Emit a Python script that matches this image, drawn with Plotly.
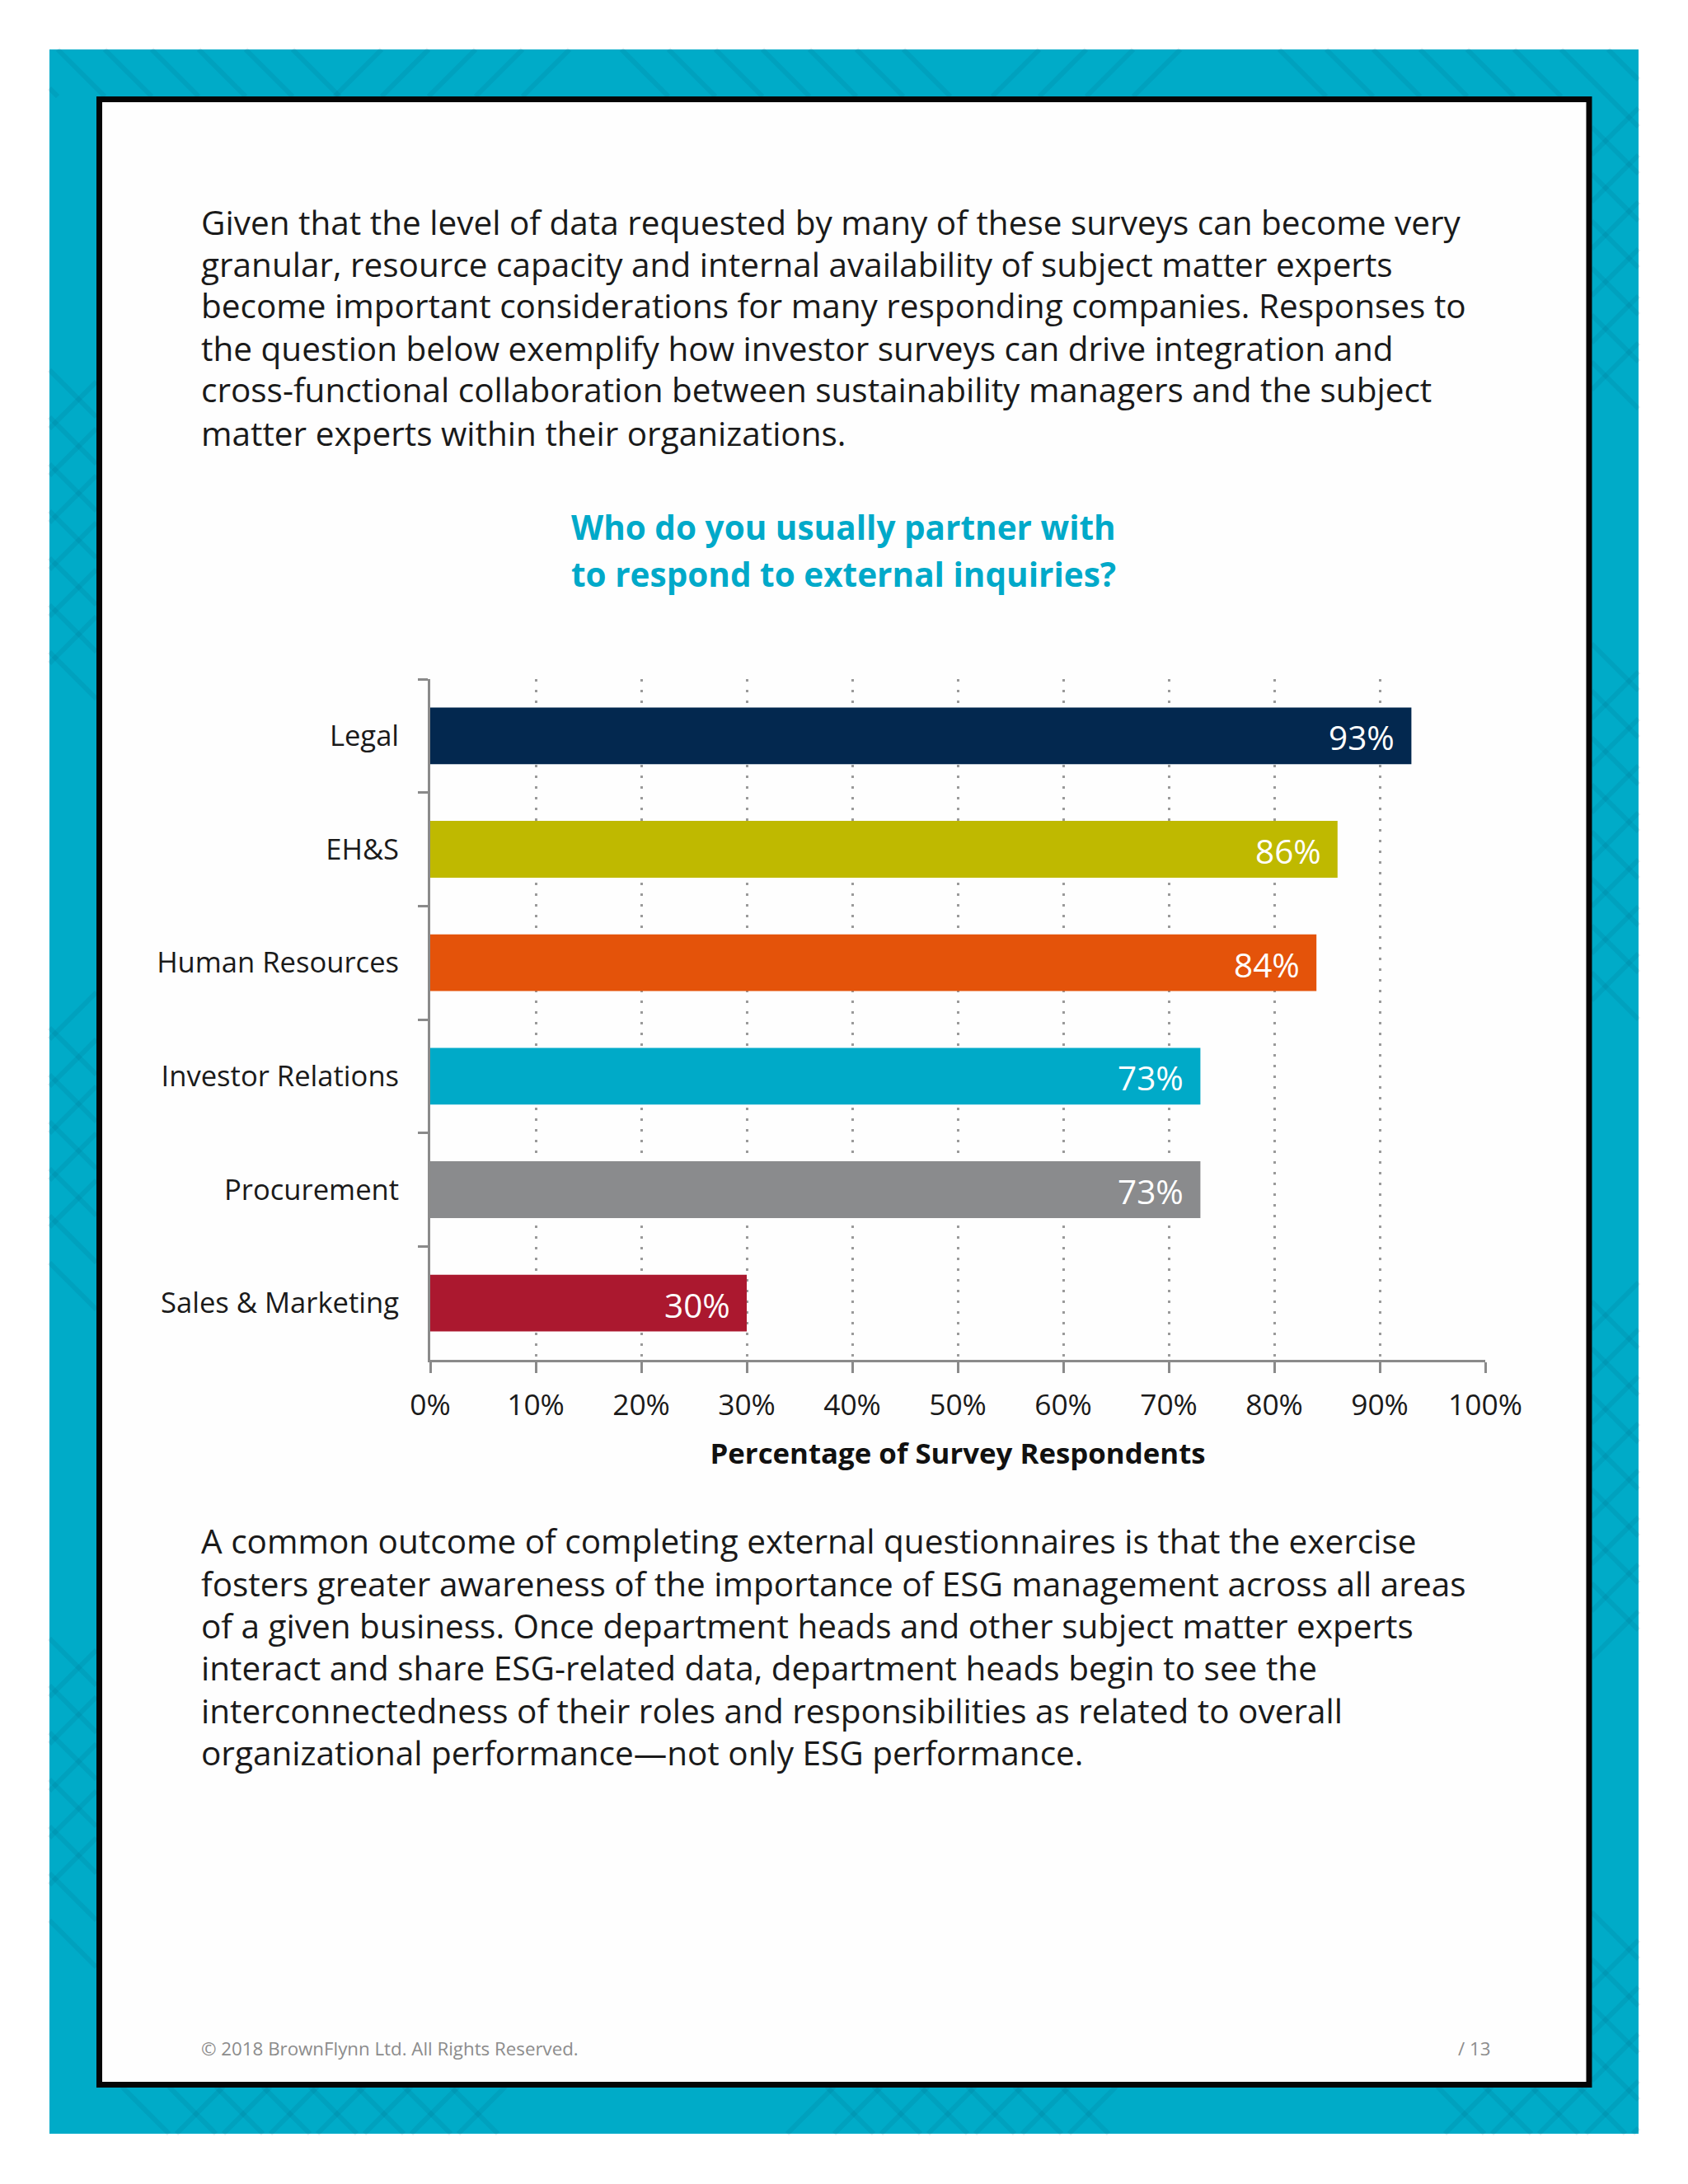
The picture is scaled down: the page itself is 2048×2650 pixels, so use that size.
import plotly.graph_objects as go

# ---------------- data ----------------
categories = ["Legal", "EH&S", "Human Resources", "Investor Relations", "Procurement", "Sales & Marketing"]
values = [93, 86, 84, 73, 73, 30]
bar_colors = ["#03284F", "#BFB900", "#E4530A", "#00AAC8", "#8A8B8D", "#AB182F"]
x_ticks = [0, 10, 20, 30, 40, 50, 60, 70, 80, 90, 100]
x_tick_labels = ["0%", "10%", "20%", "30%", "40%", "50%", "60%", "70%", "80%", "90%", "100%"]

chart_title = ["Who do you usually partner with", "to respond to external inquiries?"]
x_title = "Percentage of Survey Respondents"
para1 = [
    "Given that the level of data requested by many of these surveys can become very",
    "granular, resource capacity and internal availability of subject matter experts",
    "become important considerations for many responding companies. Responses to",
    "the question below exemplify how investor surveys can drive integration and",
    "cross-functional collaboration between sustainability managers and the subject",
    "matter experts within their organizations.",
]
para2 = [
    "A common outcome of completing external questionnaires is that the exercise",
    "fosters greater awareness of the importance of ESG management across all areas",
    "of a given business. Once department heads and other subject matter experts",
    "interact and share ESG-related data, department heads begin to see the",
    "interconnectedness of their roles and responsibilities as related to overall",
    "organizational performance\u2014not only ESG performance.",
]
footer_left = "\u00a9 2018 BrownFlynn Ltd. All Rights Reserved."
footer_right = "/ 13"

# ---------------- layout geometry (page pixels) ----------------
OFF = 8                      # default page body margin
W, H = 2032, 2634            # figure size
L, R, T, B = 522, 1802, 824, 1650   # plot area in page pixels
FONT = "Open Sans"
TEAL = "#00ABC8"


def px(x):
    return (x - L) / (R - L)


def py(y):
    return (B - y) / (B - T)


fig = go.Figure()
fig.add_trace(go.Bar(
    x=values, y=categories, orientation="h",
    marker=dict(color=bar_colors, line=dict(width=0)),
    width=0.5, hoverinfo="x+y", showlegend=False,
))

annotations = []
for c, v in zip(categories, values):
    annotations.append(dict(
        x=v, y=c, xref="x", yref="y", text=f"{v}%", showarrow=False,
        xanchor="right", yanchor="middle", xshift=-18, yshift=-2,
        font=dict(family=FONT, size=40.5, color="white"),
    ))

para1_y = [269, 320, 371, 422, 473, 525]
para2_y = [1869, 1921, 1972, 2023, 2075, 2126]
for lines, ys in ((para1, para1_y), (para2, para2_y)):
    for t, yy in zip(lines, ys):
        annotations.append(dict(
            x=px(242), y=py(yy), xref="paper", yref="paper", text=t, showarrow=False,
            xanchor="left", yanchor="middle",
            font=dict(family=FONT, size=40.5, color="#1A1A1A"),
        ))

for t, yy in zip(chart_title, [640, 696]):
    annotations.append(dict(
        x=px(1023), y=py(yy), xref="paper", yref="paper", text=t, showarrow=False,
        xanchor="center", yanchor="middle",
        font=dict(family=FONT, size=40.5, color="#00A9C9", weight="bold"),
    ))

annotations.append(dict(
    x=px(242), y=py(2485), xref="paper", yref="paper", text=footer_left, showarrow=False,
    xanchor="left", yanchor="middle", font=dict(family=FONT, size=22.3, color="#8C8C8C"),
))
annotations.append(dict(
    x=px(1810), y=py(2485), xref="paper", yref="paper", text=footer_right, showarrow=False,
    xanchor="right", yanchor="middle", font=dict(family=FONT, size=22.3, color="#8C8C8C"),
))

# ---------------- decorative frame ----------------
shapes = []
shapes.append(dict(type="rect", xref="paper", yref="paper", layer="below",
                   x0=px(60), x1=px(1988), y0=py(60), y1=py(2589),
                   fillcolor=TEAL, line=dict(width=0)))

bands = {
    "top": (60, 60, 1988, 117),
    "bottom": (60, 2532, 1988, 2589),
    "left": (60, 117, 117, 2532),
    "right": (1931, 117, 1988, 2532),
}
patches = {
    ("top", 1): [(60, 420), (780, 1150), (1540, 1988)],
    ("top", -1): [(430, 700), (1190, 1460)],
    ("bottom", 1): [(150, 612), (975, 1370), (1735, 1988)],
    ("bottom", -1): [(200, 612), (975, 1370), (1735, 1988)],
    ("left", 1): [(117, 140), (463, 840), (1223, 1600), (1983, 2360)],
    ("left", -1): [(463, 800), (1223, 1500), (1983, 2300)],
    ("right", 1): [(117, 473), (797, 1233), (1557, 1993), (2317, 2532)],
    ("right", -1): [(140, 473), (797, 1233), (1557, 1993), (2350, 2532)],
}
S = 57
for name, (x0, y0, x1, y1) in bands.items():
    horizontal = name in ("top", "bottom")
    for k in (1, -1):
        segs = []
        cmin = -4000
        for i in range(200):
            c = cmin + i * S + (0 if k == 1 else 20)
            if k == 1:
                xa, xb = max(x0, y0 - c), min(x1, y1 - c)
            else:
                xa, xb = max(x0, c - y1), min(x1, c - y0)
            if xb - xa < 2:
                continue
            ya, yb = k * xa + c, k * xb + c
            mx, my = (xa + xb) / 2, (ya + yb) / 2
            pos = mx if horizontal else my
            if not any(a <= pos <= b for a, b in patches[(name, k)]):
                continue
            segs.append(f"M{px(xa):.5f},{py(ya):.5f} L{px(xb):.5f},{py(yb):.5f}")
        if segs:
            shapes.append(dict(type="path", xref="paper", yref="paper", layer="below",
                               path=" ".join(segs),
                               line=dict(color="rgba(0,90,120,0.12)", width=6)))

shapes.append(dict(type="rect", xref="paper", yref="paper", layer="below",
                   x0=px(120.5), x1=px(1928), y0=py(120.5), y1=py(2529.5),
                   fillcolor="#FEFEFE", line=dict(color="#050505", width=7)))

AX = "#8A8A8A"
fig.update_layout(
    width=W, height=H, autosize=False,
    margin=dict(l=L - OFF, r=W - (R - OFF), t=T - OFF, b=H - (B - OFF), pad=0),
    paper_bgcolor="white", plot_bgcolor="rgba(0,0,0,0)",
    font=dict(family=FONT, color="#1A1A1A"),
    showlegend=False, bargap=0.5,
    annotations=annotations, shapes=shapes,
    xaxis=dict(
        range=[0, 100], tickvals=x_ticks, ticktext=x_tick_labels,
        ticks="outside", ticklen=13, tickwidth=3, tickcolor=AX,
        showline=True, linecolor=AX, linewidth=3, zeroline=False,
        showgrid=True, gridcolor="#9A9A9A", gridwidth=3, griddash="3px,10px",
        tickfont=dict(family=FONT, size=35.4, color="#1A1A1A"),
        ticklabelstandoff=9,
        title=dict(text=x_title, standoff=26,
                   font=dict(family=FONT, size=34.8, color="#111111", weight="bold")),
        fixedrange=True,
    ),
    yaxis=dict(
        type="category", categoryorder="array", categoryarray=categories,
        autorange="reversed",
        ticks="outside", ticklen=12, tickwidth=3, tickcolor=AX, tickson="boundaries",
        showline=True, linecolor=AX, linewidth=3, showgrid=False, zeroline=False,
        tickfont=dict(family=FONT, size=34.6, color="#1A1A1A"),
        ticklabelstandoff=28,
        fixedrange=True,
    ),
)

fig.write_html("out.html")
